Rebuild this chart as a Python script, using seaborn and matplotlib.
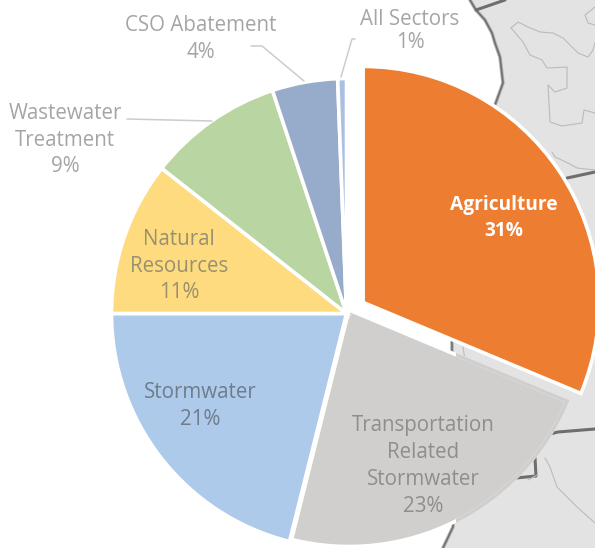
import matplotlib
matplotlib.use("Agg")
import matplotlib.pyplot as plt
from matplotlib.patches import Rectangle, Wedge
import seaborn as sns

sns.set_theme(style="white")
plt.rcParams["font.family"] = ["Open Sans", "DejaVu Sans"]

W, H = 595, 548

# slice shares
sectors = ["Agriculture", "Transportation\nRelated\nStormwater", "Stormwater",
           "Natural\nResources", "Wastewater\nTreatment", "CSO Abatement", "All Sectors"]
shares = [31.3, 22.6, 21.1, 10.6, 9.3, 4.5, 0.6]
shown_pct = ["31%", "23%", "21%", "11%", "9%", "4%", "1%"]
colors = ["#ED7D31", "#D0CFCD", "#ADCAEA", "#FFDB80", "#B8D5A2", "#97ABCB", "#A9BFE3"]
text_colors = ["white", "#8E8E8E", "#6F7C8C", "#99906F", "#A5A5A5", "#A5A5A5", "#A5A5A5"]
label_xy = [(504, 218), (423, 466), (200, 406), (179, 266), (65, 140), (201, 39), (410, 31)]

# background map, traced in image pixels
coast = [(470, 0), (476, 10), (485, 20), (492, 33), (495, 43), (500, 57), (503, 83), (495, 105),
         (470, 220), (452, 342), (452, 353), (456, 420), (453, 527), (443, 548)]
thick_lines = [[(476, 10), (505, 0)], [(567, 178), (595, 172)],
               [(550, 434), (558, 432), (595, 429)], [(516, 478), (536, 476), (535, 458)]]
thin_lines = [
    [(511, 28), (518, 22), (528, 27), (540, 32), (553, 33), (563, 38), (578, 53), (588, 57), (593, 50), (595, 43)],
    [(511, 28), (523, 42), (530, 55), (542, 60), (547, 68), (567, 67), (567, 88), (555, 92), (548, 85),
     (550, 122), (562, 126), (582, 123), (584, 110), (595, 113)],
    [(552, 152), (555, 157), (568, 163), (577, 168), (595, 170)],
    [(595, 7), (585, 15), (588, 23), (595, 25)],
    [(463, 347), (465, 360)],
    [(545, 458), (550, 467), (557, 487), (577, 507), (595, 523)],
    [(528, 480), (537, 475)],
]


def flip(points):
    return [p[0] for p in points], [H - p[1] for p in points]


fig = plt.figure(figsize=(W / 100, H / 100), dpi=100, facecolor="white")
ax = fig.add_axes([0, 0, 1, 1])

x, y = flip(coast)
ax.fill(x + [W, W], y + [0, H], color="#E3E3E3", lw=0, zorder=0)
ax.plot(x, y, color="#B5B5B5", lw=2.6, zorder=1)
ax.plot(x, y, color="#707070", lw=1.2, zorder=1)
for line in thick_lines:
    ax.plot(*flip(line), color="#6E6E6E", lw=2.2, zorder=1)
for line in thin_lines:
    ax.plot(*flip(line), color="#BBBBBB", lw=0.8, zorder=1)

wedges, _ = ax.pie(shares, colors=colors, startangle=90, counterclock=False,
                   center=(346.5, H - 313.5), radius=235, explode=[20, 0, 0, 0, 0, 0, 0],
                   frame=True, wedgeprops={"edgecolor": "white", "linewidth": 2.6, "zorder": 2})
ax.set_xlim(0, W)
ax.set_ylim(0, H)
ax.axis("off")

# agriculture and transportation sit a little off the main circle
wedges[0].set_radius(236)
wedges[1].set_center((349, H - 310))
wedges[1].set_radius(236.5)

# the transportation slice has no white outline where it lies on the map
rim = Wedge((349, H - 310), 236.5, wedges[1].theta1, wedges[1].theta2, facecolor="none",
            edgecolor=colors[1], linewidth=2.6, zorder=2)
ax.add_patch(rim)
rim.set_clip_path(Rectangle((456, 0), W - 456, H, transform=ax.transData))

for i, (name, pct) in enumerate(zip(sectors, shown_pct)):
    bold = name == "Agriculture"
    ax.text(label_xy[i][0], H - label_xy[i][1], name + "\n" + pct, color=text_colors[i],
            fontsize=13.8 if bold else 14.8, fontweight="bold" if bold else "normal",
            ha="center", va="center", linespacing=1.08 if name == "All Sectors" else 1.36, zorder=3)

# leader lines
ax.plot(*flip([(127, 119), (212, 121)]), color="#CCCCCC", lw=1.1, zorder=3)
ax.plot(*flip([(251, 46), (262, 46), (304, 81)]), color="#CCCCCC", lw=1.1, zorder=3)
ax.plot(*flip([(355, 39), (352, 39), (341, 77)]), color="#CCCCCC", lw=1.1, zorder=3)

fig.savefig("out.png", dpi=100)
